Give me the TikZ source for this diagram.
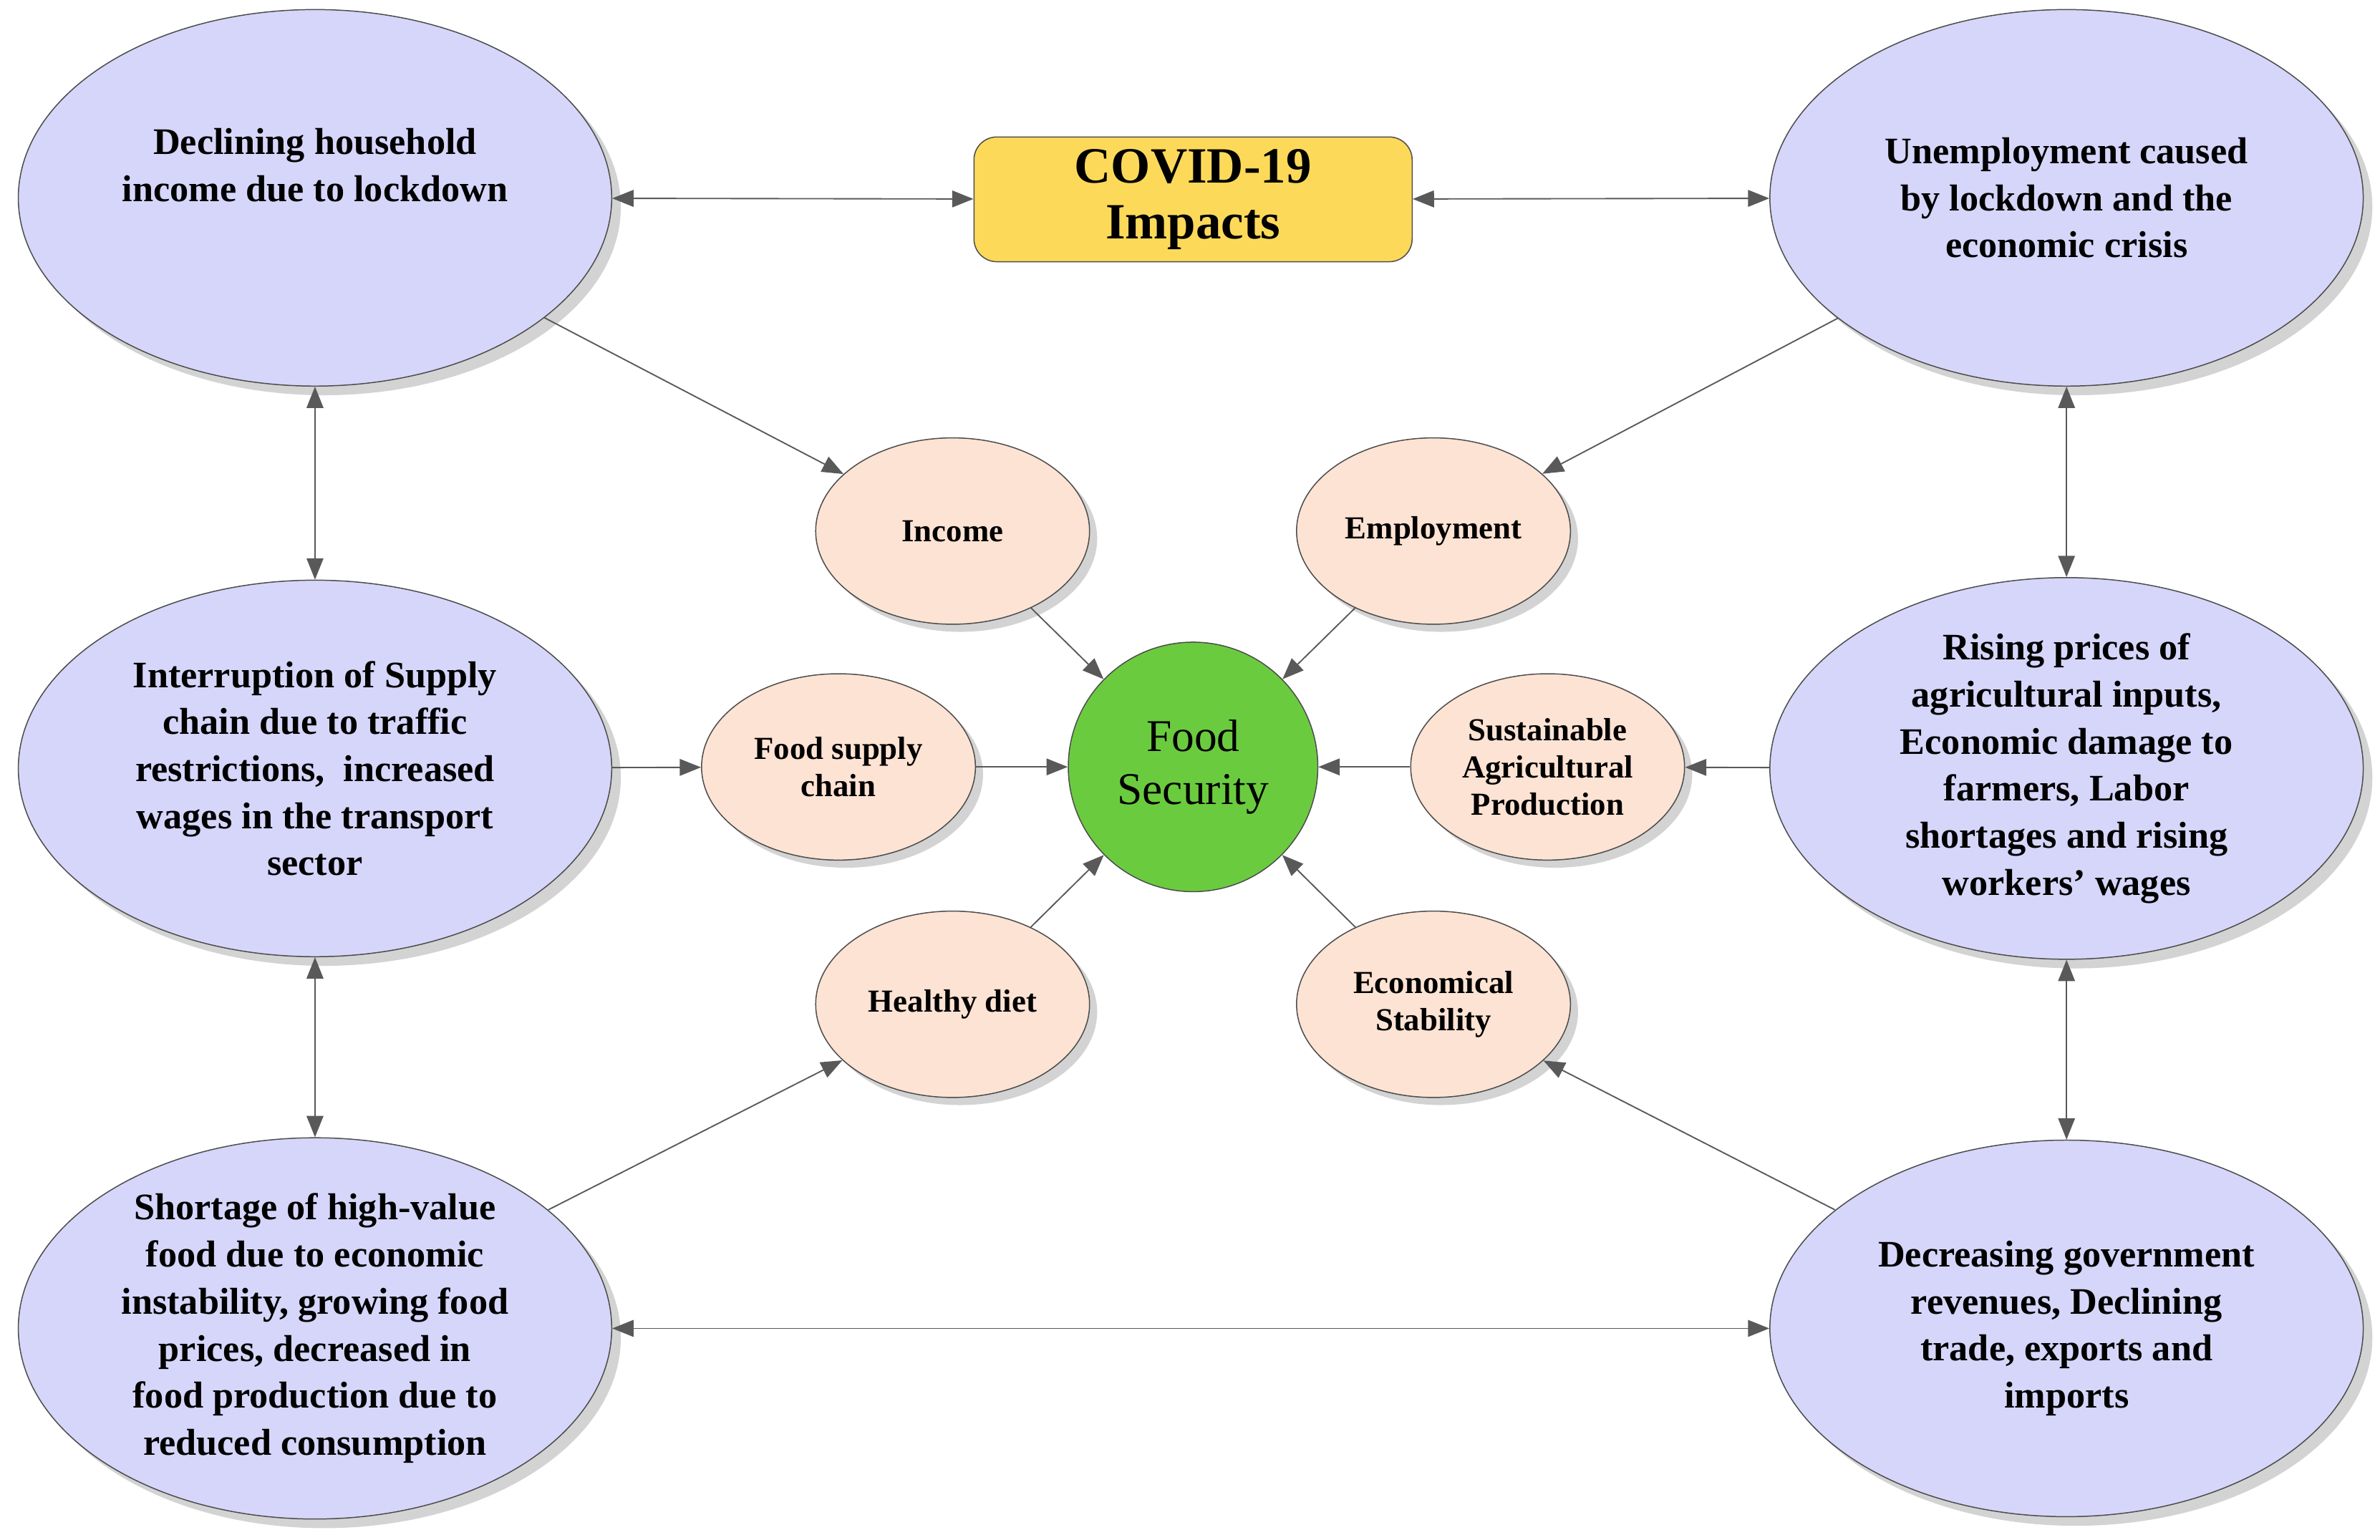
\documentclass[tikz,border=0pt]{standalone}
\usepackage{fontspec}
\setmainfont{Liberation Serif}
\usetikzlibrary{shapes.geometric,arrows.meta,shadows}
\begin{document}
\begin{tikzpicture}[x=0.02cm,y=-0.02cm,
 big/.style={ellipse,draw=black!70,fill={rgb,255:red,214;green,214;blue,250},minimum width=7.8cm,minimum height=4.95cm,inner sep=0pt,align=center,font=\fontsize{14}{17.6}\selectfont\bfseries,drop shadow={shadow xshift=0.12cm,shadow yshift=-0.12cm,opacity=0.35}},
 small/.style={ellipse,draw=black!70,fill={rgb,255:red,253;green,227;blue,211},minimum width=3.6cm,minimum height=2.45cm,inner sep=0pt,align=center,font=\fontsize{12}{14}\selectfont\bfseries,drop shadow={shadow xshift=0.1cm,shadow yshift=-0.1cm,opacity=0.35}},
 arr/.style={-{Triangle[length=0.28cm,width=0.22cm]},draw=black!65,line width=0.5pt},
 darr/.style={{Triangle[length=0.28cm,width=0.22cm]}-{Triangle[length=0.28cm,width=0.22cm]},draw=black!65,line width=0.5pt}]
\useasboundingbox (0,0) rectangle (1564,1012);
\node[big] (TL) at (207,130) {Declining household\\income due to lockdown\\[0.5em]};
\node[big] (TR) at (1358,130) {Unemployment caused\\by lockdown and the\\economic crisis};
\node[big] (ML) at (207,505) {Interruption of Supply\\chain due to traffic\\restrictions,\ \ increased\\wages in the transport\\sector};
\node[big] (MR) at (1358,505) {Rising prices of\\agricultural inputs,\\Economic damage to\\farmers, Labor\\shortages and rising\\workers' wages};
\node[big] (BL) at (207,873) {Shortage of high-value\\food due to economic\\instability, growing food\\prices, decreased in\\food production due to\\reduced consumption};
\node[big] (BR) at (1358,873) {Decreasing government\\revenues, Declining\\trade, exports and\\imports};
\node[rounded corners=0.3cm,draw=black!70,fill={rgb,255:red,253;green,217;blue,90},minimum width=5.76cm,minimum height=1.64cm,align=center,font=\fontsize{19}{21}\selectfont\bfseries] (CV) at (784,131) {COVID-19\\Impacts};
\node[circle,draw=black!70,fill={rgb,255:red,107;green,203;blue,63},minimum size=3.28cm,inner sep=0pt,align=center,font=\fontsize{17}{20}\selectfont] (FS) at (784,504) {Food\\Security};
\node[small] (IN) at (626,349) {Income};
\node[small] (EM) at (942,349) {Employment};
\node[small] (SC) at (551,504) {Food supply\\chain};
\node[small] (SA) at (1017,504) {Sustainable\\Agricultural\\Production};
\node[small] (HD) at (626,660) {Healthy diet};
\node[small] (ES) at (942,660) {Economical\\Stability};
\draw[darr] (TL) -- (CV);
\draw[darr] (CV) -- (TR);
\draw[darr] (TL) -- (ML);
\draw[darr] (ML) -- (BL);
\draw[darr] (TR) -- (MR);
\draw[darr] (MR) -- (BR);
\draw[darr] (BL) -- (BR);
\draw[arr] (TL) -- (IN);
\draw[arr] (TR) -- (EM);
\draw[arr] (BL) -- (HD);
\draw[arr] (BR) -- (ES);
\draw[arr] (ML) -- (SC);
\draw[arr] (MR) -- (SA);
\draw[arr] (SC) -- (FS);
\draw[arr] (SA) -- (FS);
\draw[arr] (IN) -- (FS);
\draw[arr] (EM) -- (FS);
\draw[arr] (HD) -- (FS);
\draw[arr] (ES) -- (FS);
\end{tikzpicture}
\end{document}
